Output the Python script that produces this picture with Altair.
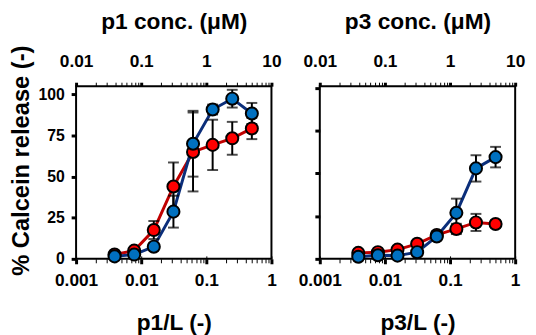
import altair as alt
import pandas as pd

# ---- data ----
ratio = [0.0039, 0.0078, 0.0156, 0.03125, 0.0625, 0.125, 0.25, 0.5]
series = ["red", "blue"]

p1_red = [2.6, 5.0, 17.5, 44.0, 65.0, 69.3, 73.3, 79.3]
p1_red_err = [1.0, 1.5, 5.5, 14.6, 24.0, 15.3, 10.0, 6.5]
p1_blue = [1.5, 2.6, 7.4, 28.7, 70.0, 90.8, 97.4, 88.4]
p1_blue_err = [1.0, 1.0, 2.0, 9.7, 20.0, 3.0, 5.4, 6.4]

p3_red = [3.5, 3.9, 5.4, 8.8, 14.0, 17.5, 21.3, 20.4]
p3_red_err = [1.0, 1.0, 1.0, 1.5, 2.0, 3.0, 5.0, 2.0]
p3_blue = [1.2, 2.1, 1.9, 3.9, 13.1, 26.9, 52.9, 59.5]
p3_blue_err = [0.5, 0.5, 0.5, 1.0, 2.0, 8.3, 7.7, 6.0]

x_major = [0.001, 0.01, 0.1, 1]
x_minor = [m * d for d in (0.001, 0.01, 0.1) for m in range(2, 10)]
y_ticks = [0, 25, 50, 75, 100]

fill_colors = ["#FF0000", "#0070C0"]
line_colors = ["#C00000", "#0B2E7A"]

W = 198
H = 175


def make_df(red, red_err, blue, blue_err):
    rows = []
    for s, vals, errs in (("red", red, red_err), ("blue", blue, blue_err)):
        for r, v, e in zip(ratio, vals, errs):
            rows.append({"ratio": r, "value": v, "lo": v - e, "hi": v + e, "series": s})
    return pd.DataFrame(rows)


def panel(df, name, ymax, first):
    xs = alt.Scale(type="log", domain=[0.001, 1], nice=False)
    ys = alt.Scale(domain=[0, ymax], nice=False, zero=False)

    def X(axis):
        return alt.X("ratio:Q", scale=xs, axis=axis)

    ax_bottom = alt.Axis(orient="bottom", values=x_major,
                         labelExpr="format(datum.value, '~g')",
                         title=f"{name}/L (-)", tickColor="black",
                         tickSize=5, tickWidth=3,
                         labelFontSize=17.5, titleFontSize=23,
                         labelPadding=8, titlePadding=23,
                         labelFlush=False, labelOverlap=False)
    ax_bottom_minor = alt.Axis(orient="bottom", values=x_minor, labels=False,
                               title=None, tickColor="black", tickSize=4)
    ax_top = alt.Axis(orient="top", values=x_major,
                      labelExpr="format(datum.value * 10, '~g')",
                      title=f"{name} conc. (μM)", tickColor="black",
                      tickSize=4, tickWidth=3,
                      labelFontSize=17.5, titleFontSize=23,
                      labelPadding=12, titlePadding=19,
                      labelFlush=False, labelOverlap=False)
    ax_top_minor = alt.Axis(orient="top", values=x_minor, labels=False,
                            title=None, tickColor="black", tickSize=4)
    ax_bottom_in = alt.Axis(orient="top", offset=-H, values=x_major, labels=False,
                            title=None, tickColor="black", tickSize=3)

    if first:
        y_axis = alt.Axis(values=y_ticks, title="% Calcein release (-)",
                          tickColor="black", tickSize=5, tickWidth=3,
                          labelPadding=7, labelFontSize=16,
                          titleFontSize=24, titlePadding=5, titleY=75)
    else:
        y_axis = alt.Axis(values=y_ticks, title=None, labels=False,
                          tickColor="black", tickSize=5, tickWidth=3)

    def Y(field):
        return alt.Y(f"{field}:Q", scale=ys, axis=y_axis)

    base = alt.Chart(df)

    line = base.mark_line(strokeWidth=3).encode(
        x=X(ax_bottom),
        y=Y("value"),
        color=alt.Color("series:N", scale=alt.Scale(domain=series, range=line_colors), legend=None),
        detail="series:N",
    )
    rule = base.mark_rule(strokeWidth=2, color="black").encode(
        x=X(ax_bottom_minor),
        y=Y("lo"),
        y2="hi:Q",
    )
    cap_lo = base.mark_tick(orient="horizontal", size=11, thickness=2, color="black").encode(
        x=X(ax_top),
        y=Y("lo"),
    )
    cap_hi = base.mark_tick(orient="horizontal", size=11, thickness=2, color="black").encode(
        x=X(ax_top_minor),
        y=Y("hi"),
    )
    pts = base.mark_point(filled=True, size=150, stroke="black", strokeWidth=2, opacity=1).encode(
        x=X(ax_bottom_in),
        y=Y("value"),
        fill=alt.Fill("series:N", scale=alt.Scale(domain=series, range=fill_colors), legend=None),
    )
    return alt.layer(line, rule, cap_lo, cap_hi, pts).resolve_axis(x="independent").properties(
        width=W, height=H
    )


left = panel(make_df(p1_red, p1_red_err, p1_blue, p1_blue_err), "p1", 105, True)
right = panel(make_df(p3_red, p3_red_err, p3_blue, p3_blue_err), "p3", 101, False)

chart = alt.hconcat(left, right, spacing=49, bounds="flush").properties(
    padding={"left": 0, "top": 0, "right": 2, "bottom": 0}
).configure(
    font="Liberation Sans",
).configure_view(
    stroke="black", strokeWidth=2
).configure_axis(
    domain=False, grid=False,
    labelColor="black", titleColor="black",
    labelFont="Liberation Sans", titleFont="Liberation Sans",
    labelFontWeight="bold", titleFontWeight="bold",
)

chart.save("out.html", embed_options={"renderer": "svg", "actions": False})
